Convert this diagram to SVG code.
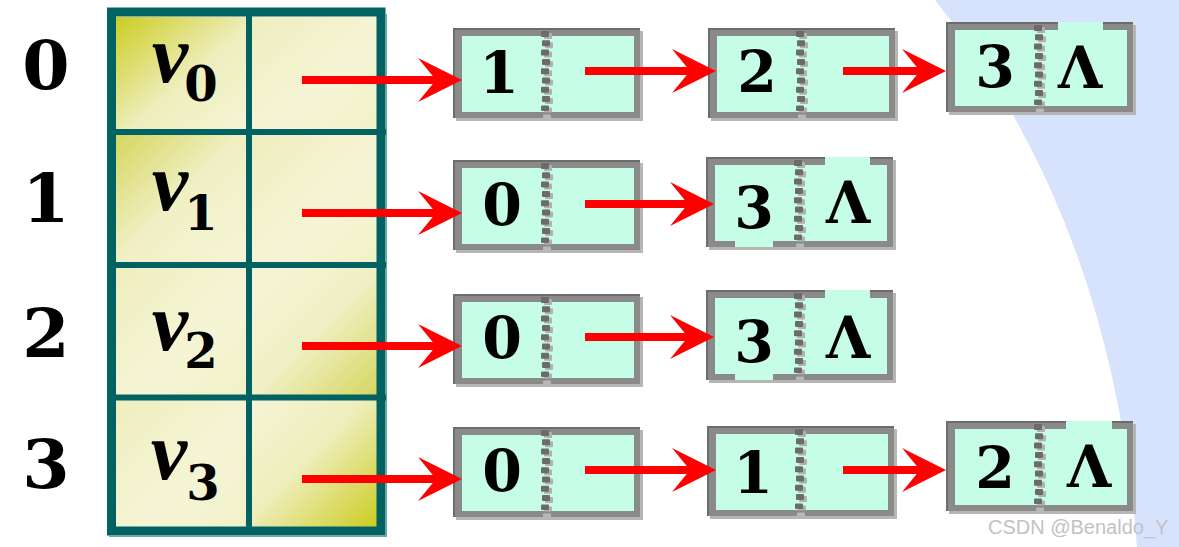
<svg xmlns="http://www.w3.org/2000/svg" xmlns:xlink="http://www.w3.org/1999/xlink" width="1179" height="547" viewBox="0 0 1179 547">
<style>
.lbl{font-family:"DejaVu Serif","Liberation Serif",serif;font-weight:bold;font-size:68px;fill:#000;text-anchor:middle}
.v{font-family:"Liberation Serif",serif;font-style:italic;font-weight:bold;font-size:82px;fill:#000;text-anchor:middle}
.sub{font-family:"DejaVu Serif","Liberation Serif",serif;font-weight:bold;font-size:48px;fill:#000;text-anchor:middle}
.nt{font-family:"DejaVu Serif","Liberation Serif",serif;font-weight:bold;font-size:57px;fill:#000;text-anchor:middle}
.sh{fill:#b6b6b6}
.ob{fill:#6c6c6c}
.ib{fill:#8a8a8a}
.mint{fill:#c6fde6}
.grid{fill:#006262}
.arr{stroke:#ff0000;stroke-width:8;fill:none;marker-end:url(#ah)}
.wm{font-family:"Liberation Sans",Arial,sans-serif;font-size:20px;fill:#c2c2c2}
</style>
<defs>
<linearGradient id="gTL" x1="0" y1="0" x2="1" y2="1">
<stop offset="0" stop-color="#cccc22"/><stop offset="0.55" stop-color="#eeeebd"/><stop offset="1" stop-color="#f5f5d6"/>
</linearGradient>
<linearGradient id="gTLm" x1="0" y1="0" x2="1" y2="1">
<stop offset="0" stop-color="#d6d660"/><stop offset="0.5" stop-color="#f0f0c6"/><stop offset="1" stop-color="#f5f5d6"/>
</linearGradient>
<linearGradient id="gL" x1="0" y1="0" x2="1" y2="1">
<stop offset="0" stop-color="#eeeebf"/><stop offset="0.6" stop-color="#f5f5d6"/><stop offset="1" stop-color="#f1f1c8"/>
</linearGradient>
<linearGradient id="gBRm" x1="0" y1="0" x2="1" y2="1">
<stop offset="0" stop-color="#f5f5d6"/><stop offset="0.5" stop-color="#f0f0c6"/><stop offset="1" stop-color="#d6d660"/>
</linearGradient>
<linearGradient id="gBR" x1="0" y1="0" x2="1" y2="1">
<stop offset="0" stop-color="#f5f5d6"/><stop offset="0.45" stop-color="#eeeebd"/><stop offset="1" stop-color="#cccc22"/>
</linearGradient>
<marker id="ah" markerUnits="userSpaceOnUse" markerWidth="46" markerHeight="46" refX="18" refY="22" orient="auto">
<path d="M0,0 L44,22 L0,44 L18,22 Z" fill="#ff0000"/>
</marker>
<g id="sp">
<rect x="3" y="5" width="8" height="6" rx="1" fill="#b0b0b0"/>
<rect x="0" y="3" width="8" height="6" rx="1" fill="#6b6b6b"/>
<rect x="4" y="14.3" width="8" height="6" rx="1" fill="#b0b0b0"/>
<rect x="1" y="12.3" width="8" height="6" rx="1" fill="#6b6b6b"/>
<rect x="3" y="23.6" width="8" height="6" rx="1" fill="#b0b0b0"/>
<rect x="0" y="21.6" width="8" height="6" rx="1" fill="#6b6b6b"/>
<rect x="4" y="32.9" width="8" height="6" rx="1" fill="#b0b0b0"/>
<rect x="1" y="30.9" width="8" height="6" rx="1" fill="#6b6b6b"/>
<rect x="3" y="42.2" width="8" height="6" rx="1" fill="#b0b0b0"/>
<rect x="0" y="40.2" width="8" height="6" rx="1" fill="#6b6b6b"/>
<rect x="4" y="51.5" width="8" height="6" rx="1" fill="#b0b0b0"/>
<rect x="1" y="49.5" width="8" height="6" rx="1" fill="#6b6b6b"/>
<rect x="3" y="60.8" width="8" height="6" rx="1" fill="#b0b0b0"/>
<rect x="0" y="58.8" width="8" height="6" rx="1" fill="#6b6b6b"/>
<rect x="4" y="70.1" width="8" height="6" rx="1" fill="#b0b0b0"/>
<rect x="1" y="68.1" width="8" height="6" rx="1" fill="#6b6b6b"/>
<rect x="3" y="79.4" width="8" height="5" rx="1" fill="#b0b0b0"/>
<rect x="0" y="77.4" width="8" height="5.5" rx="1" fill="#6b6b6b"/>
<rect x="2" y="86.5" width="8" height="4" rx="1" fill="#b8b8b8"/>
</g>
<g id="box">
<rect class="sh" x="3" y="3" width="187" height="90"/>
<rect class="ob" width="187" height="90"/>
<rect class="ib" x="2" y="2" width="185" height="88"/>
<rect class="mint" x="9" y="8" width="172" height="76"/>
</g>
</defs>

<rect width="1179" height="547" fill="#ffffff"/>
<path d="M935,0 Q1112,220 1137,547 L1179,547 L1179,0 Z" fill="#d7e2fc"/>

<g id="index-labels">
<text class="lbl" x="46" y="89">0</text>
<text class="lbl" x="46" y="222">1</text>
<text class="lbl" x="46" y="357">2</text>
<text class="lbl" x="46" y="488">3</text>
</g>

<g id="table">
<rect x="116" y="17" width="130" height="113" fill="url(#gTL)"/>
<rect x="252" y="17" width="125" height="113" fill="url(#gL)"/>
<rect x="116" y="135" width="130" height="127" fill="url(#gTLm)"/>
<rect x="252" y="135" width="125" height="127" fill="url(#gL)"/>
<rect x="116" y="268" width="130" height="127" fill="url(#gL)"/>
<rect x="252" y="268" width="125" height="127" fill="url(#gBRm)"/>
<rect x="116" y="400" width="130" height="127" fill="url(#gL)"/>
<rect x="252" y="400" width="125" height="127" fill="url(#gBR)"/>
<rect x="111.5" y="12" width="269.5" height="519" fill="none" stroke="#006262" stroke-width="9"/>
<rect x="385" y="14" width="2" height="521" fill="#6fa6a6"/>
<rect x="109" y="535" width="278" height="2" fill="#6fa6a6"/>
<rect class="grid" x="246" y="12" width="6" height="519"/>
<rect class="grid" x="111" y="129" width="275" height="6"/>
<rect class="grid" x="111" y="262" width="275" height="6"/>
<rect class="grid" x="111" y="394.5" width="275" height="6"/>
<text class="v" x="170" y="82">v</text><text class="sub" x="201" y="101">0</text>
<text class="v" x="170" y="210">v</text><text class="sub" x="201" y="230">1</text>
<text class="v" x="170" y="350">v</text><text class="sub" x="201" y="368">2</text>
<text class="v" x="169" y="479">v</text><text class="sub" x="203" y="500">3</text>
</g>

<g id="n00" transform="translate(453,28)"><use href="#box"/><use href="#sp" x="88" y="0"/><text class="nt" x="46" y="65">1</text></g>
<g id="n01" transform="translate(708,28)"><use href="#box"/><use href="#sp" x="88" y="0"/><text class="nt" x="49" y="64">2</text></g>
<g id="n02" transform="translate(946,22)"><use href="#box"/><rect class="mint" x="112" y="0" width="45" height="10"/><use href="#sp" x="88" y="0"/><text class="nt" x="49" y="65">3</text><text class="nt" x="134" y="66">Λ</text></g>

<g id="n10" transform="translate(453,160)"><use href="#box"/><use href="#sp" x="88" y="0"/><text class="nt" x="49" y="65">0</text></g>
<g id="n11" transform="translate(706,157)"><use href="#box"/><rect class="mint" x="119" y="0" width="45" height="10"/><rect class="mint" x="29" y="82" width="38" height="8"/><use href="#sp" x="88" y="0"/><text class="nt" x="48" y="71">3</text><text class="nt" x="142" y="66">Λ</text></g>

<g id="n20" transform="translate(453,294)"><use href="#box"/><use href="#sp" x="88" y="0"/><text class="nt" x="49" y="64">0</text></g>
<g id="n21" transform="translate(706,290)"><use href="#box"/><rect class="mint" x="119" y="0" width="45" height="10"/><rect class="mint" x="29" y="82" width="38" height="8"/><use href="#sp" x="88" y="0"/><text class="nt" x="48" y="72">3</text><text class="nt" x="142" y="68">Λ</text></g>

<g id="n30" transform="translate(453,427)"><use href="#box"/><use href="#sp" x="88" y="0"/><text class="nt" x="49" y="64">0</text></g>
<g id="n31" transform="translate(707,426)"><use href="#box"/><use href="#sp" x="88" y="0"/><text class="nt" x="46" y="67">1</text></g>
<g id="n32" transform="translate(946,421)"><use href="#box"/><rect class="mint" x="120" y="0" width="46" height="10"/><use href="#sp" x="88" y="0"/><text class="nt" x="49" y="67">2</text><text class="nt" x="143" y="66">Λ</text></g>

<g id="connectors">
<line class="arr" x1="302" y1="80" x2="436" y2="80"/>
<line class="arr" x1="585" y1="71" x2="690" y2="71"/>
<line class="arr" x1="843" y1="71" x2="920" y2="71"/>
<line class="arr" x1="302" y1="213" x2="436" y2="213"/>
<line class="arr" x1="585" y1="204" x2="688" y2="204"/>
<line class="arr" x1="302" y1="346" x2="436" y2="346"/>
<line class="arr" x1="585" y1="337" x2="688" y2="337"/>
<line class="arr" x1="302" y1="479" x2="436" y2="479"/>
<line class="arr" x1="585" y1="470" x2="690" y2="470"/>
<line class="arr" x1="843" y1="470" x2="920" y2="470"/>
</g>

<text class="wm" x="988" y="534">CSDN @Benaldo_Y</text>
</svg>
